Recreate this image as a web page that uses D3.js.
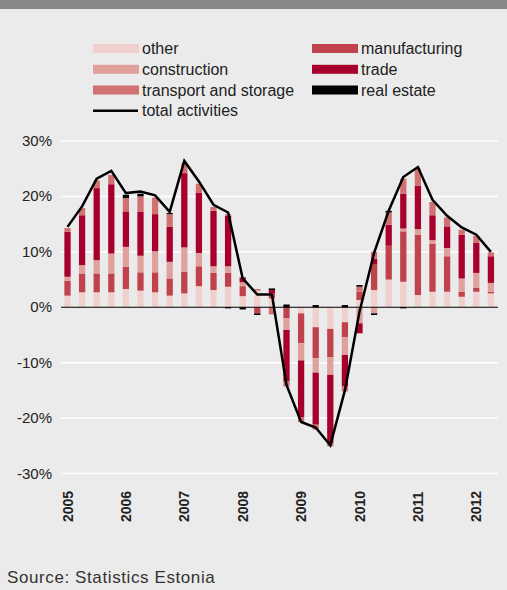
<!DOCTYPE html>
<html>
<head>
<meta charset="utf-8">
<script src="https://cdnjs.cloudflare.com/ajax/libs/d3/7.8.5/d3.min.js"></script>
<style>
  html, body { margin: 0; padding: 0; background: #ebebeb; }
  svg { display: block; font-family: "Liberation Sans", Arial, sans-serif; }
  .tick-label { font-size: 15px; fill: #222; }
  .year-label { font-size: 14px; font-weight: bold; fill: #222; }
  .legend-text { font-size: 16px; fill: #222; }
</style>
</head>
<body>
<svg id="chart" width="507" height="590"></svg>
<script>
// quarterly contributions to growth, percentage points
var quarters = ["2005Q1","2005Q2","2005Q3","2005Q4","2006Q1","2006Q2","2006Q3","2006Q4",
  "2007Q1","2007Q2","2007Q3","2007Q4","2008Q1","2008Q2","2008Q3","2008Q4",
  "2009Q1","2009Q2","2009Q3","2009Q4","2010Q1","2010Q2","2010Q3","2010Q4",
  "2011Q1","2011Q2","2011Q3","2011Q4","2012Q1","2012Q2"];
var years = ["2005","2006","2007","2008","2009","2010","2011","2012"];

var other =         [2.1, 2.7, 2.7, 2.7, 3.3, 3.0, 2.7, 2.1, 2.5, 3.8, 3.1, 3.7, 2.0, 3.0, 1.6, 0, -1.1, -3.6, -3.9, -2.7, 1.3, 3.1, 5.0, 4.6, 2.2, 2.8, 2.8, 1.9, 2.8, 2.5];
var manufacturing = [2.7, 3.4, 3.4, 3.4, 4.0, 3.3, 3.6, 3.1, 3.9, 3.6, 3.1, 2.5, 1.8, -1.1, 0.9, -2.0, -5.4, -5.6, -5.1, -2.7, 1.5, 4.7, 6.1, 9.1, 10.9, 8.7, 6.4, 0.9, 0.7, 0.3];
var construction =  [0.7, 1.5, 2.4, 3.6, 3.6, 3.0, 3.8, 3.0, 4.4, 2.4, 1.2, 1.2, 0.7, 0, 0, -2.1, -3.1, -2.6, -3.2, -3.2, -2.9, -1.1, 0, 0.5, 1.0, 0.6, 1.5, 2.4, 2.7, 1.6];
var trade =         [8.1, 9.0, 13.0, 12.5, 6.4, 7.9, 6.7, 6.3, 13.4, 10.9, 10.0, 9.1, 0.9, 0, 0.6, -9.3, -10.3, -9.4, -12.4, -5.7, -1.8, 0.9, 3.8, 6.3, 7.8, 4.5, 3.9, 7.9, 5.4, 4.8];
var transport =     [0.7, 1.3, 1.4, 1.7, 2.4, 2.8, 3.0, 2.3, 1.7, 1.6, 0.7, 0.3, 0, 0.3, -1.3, -0.9, -0.8, -0.9, -0.5, -0.9, 0.9, 1.3, 2.2, 2.7, 3.1, 2.4, 1.6, 0.9, 1.3, 0.7];
var realEstate =    [0, 0, 0, 0, 0.6, 0.5, 0, 0.2, 0, 0, 0, -0.2, -0.4, -0.3, 0.3, 0.5, 0, 0.4, 0, 0.4, 0.3, -0.3, 0.3, -0.2, 0, 0, 0, 0, 0, 0];
var total =         [14.5, 18.2, 23.2, 24.6, 20.6, 20.9, 20.2, 17.2, 26.4, 22.7, 18.5, 17.1, 5.2, 2.3, 2.3, -14.0, -20.7, -21.7, -24.9, -15.0, -0.8, 9.8, 17.4, 23.5, 25.3, 19.4, 16.5, 14.4, 13.1, 10.0];

var yTicks = [30, 20, 10, 0, -10, -20, -30];

// series order = stacking order (legend reads row by row)
var series = [
  {key: "other", label: "other", values: other, color: "#f0d0cc"},
  {key: "manufacturing", label: "manufacturing", values: manufacturing, color: "#c0424c"},
  {key: "construction", label: "construction", values: construction, color: "#e0a19d"},
  {key: "trade", label: "trade", values: trade, color: "#a8002c"},
  {key: "transport", label: "transport and storage", values: transport, color: "#d07272"},
  {key: "realEstate", label: "real estate", values: realEstate, color: "#000000"}
];

var rows = quarters.map(function(q, i) {
  var r = {q: q};
  series.forEach(function(s) { r[s.key] = s.values[i]; });
  return r;
});

var svg = d3.select("#chart");

svg.append("rect").attr("x", 0).attr("y", 0).attr("width", 507).attr("height", 590).attr("fill", "#ebebeb");
svg.append("rect").attr("x", 0).attr("y", 0).attr("width", 507).attr("height", 9).attr("fill", "#878787");

var x = d3.scaleBand().domain(quarters).range([60.2, 498.2]).paddingInner(0.57).paddingOuter(0.285);
var y = d3.scaleLinear().domain([-30, 30]).range([473.5, 141]);

// gridlines
svg.append("g").selectAll("line")
  .data(yTicks.filter(function(d) { return d !== 0; }))
  .enter().append("line")
  .attr("x1", 61).attr("x2", 498)
  .attr("y1", function(d) { return y(d); })
  .attr("y2", function(d) { return y(d); })
  .attr("stroke", "#ffffff").attr("stroke-width", 1.5);

// y labels
svg.append("g").selectAll("text")
  .data(yTicks)
  .enter().append("text")
  .attr("class", "tick-label")
  .attr("x", 52)
  .attr("y", function(d) { return y(d) + 5; })
  .attr("text-anchor", "end")
  .text(function(d) { return d + "%"; });

var stack = d3.stack()
  .keys(series.map(function(s) { return s.key; }))
  .offset(d3.stackOffsetDiverging);
var stacked = stack(rows);

svg.append("g").selectAll("g")
  .data(stacked)
  .enter().append("g")
  .attr("fill", function(d, i) { return series[i].color; })
  .selectAll("rect")
  .data(function(d) { return d; })
  .enter().append("rect")
  .attr("x", function(d) { return x(d.data.q); })
  .attr("width", x.bandwidth())
  .attr("y", function(d) { return y(Math.max(d[0], d[1])); })
  .attr("height", function(d) { return Math.abs(y(d[0]) - y(d[1])); });

// zero line
svg.append("line")
  .attr("x1", 61).attr("x2", 498)
  .attr("y1", y(0)).attr("y2", y(0))
  .attr("stroke", "#000").attr("stroke-width", 1);

// total line
var line = d3.line()
  .x(function(d, i) { return x(quarters[i]) + x.bandwidth() / 2; })
  .y(function(d) { return y(d); });

svg.append("path")
  .datum(total)
  .attr("d", line)
  .attr("fill", "none")
  .attr("stroke", "#000")
  .attr("stroke-width", 2.5)
  .attr("stroke-linejoin", "miter");

// year labels, rotated
svg.append("g").selectAll("text")
  .data(years)
  .enter().append("text")
  .attr("class", "year-label")
  .attr("transform", function(d) {
    var cx = x(d + "Q1") + x.bandwidth() / 2 + 5;
    return "translate(" + cx + ",522) rotate(-90)";
  })
  .text(function(d) { return d; });

// legend
var legendItems = [
  {label: "other", color: "#f0d0cc", col: 0, row: 0},
  {label: "manufacturing", color: "#c0424c", col: 1, row: 0},
  {label: "construction", color: "#e0a19d", col: 0, row: 1},
  {label: "trade", color: "#a8002c", col: 1, row: 1},
  {label: "transport and storage", color: "#d07272", col: 0, row: 2},
  {label: "real estate", color: "#000000", col: 1, row: 2}
];
var colX = [93, 312];
var rowY = [48.5, 69.3, 90, 110.7];

var lg = svg.append("g");
lg.selectAll("rect")
  .data(legendItems)
  .enter().append("rect")
  .attr("x", function(d) { return colX[d.col]; })
  .attr("y", function(d) { return rowY[d.row] - 4.5; })
  .attr("width", 46).attr("height", 9)
  .attr("fill", function(d) { return d.color; });
lg.selectAll("text")
  .data(legendItems)
  .enter().append("text")
  .attr("class", "legend-text")
  .attr("x", function(d) { return colX[d.col] + 49; })
  .attr("y", function(d) { return rowY[d.row] + 5.5; })
  .text(function(d) { return d.label; });
lg.append("line")
  .attr("x1", colX[0]).attr("x2", colX[0] + 45)
  .attr("y1", rowY[3]).attr("y2", rowY[3])
  .attr("stroke", "#000").attr("stroke-width", 2.5);
lg.append("text")
  .attr("class", "legend-text")
  .attr("x", colX[0] + 49)
  .attr("y", rowY[3] + 5.5)
  .text("total activities");

svg.append("text")
  .attr("x", 7).attr("y", 583)
  .attr("font-size", 17)
  .attr("letter-spacing", 0.6)
  .attr("fill", "#333")
  .text("Source: Statistics Estonia");
</script>
</body>
</html>
